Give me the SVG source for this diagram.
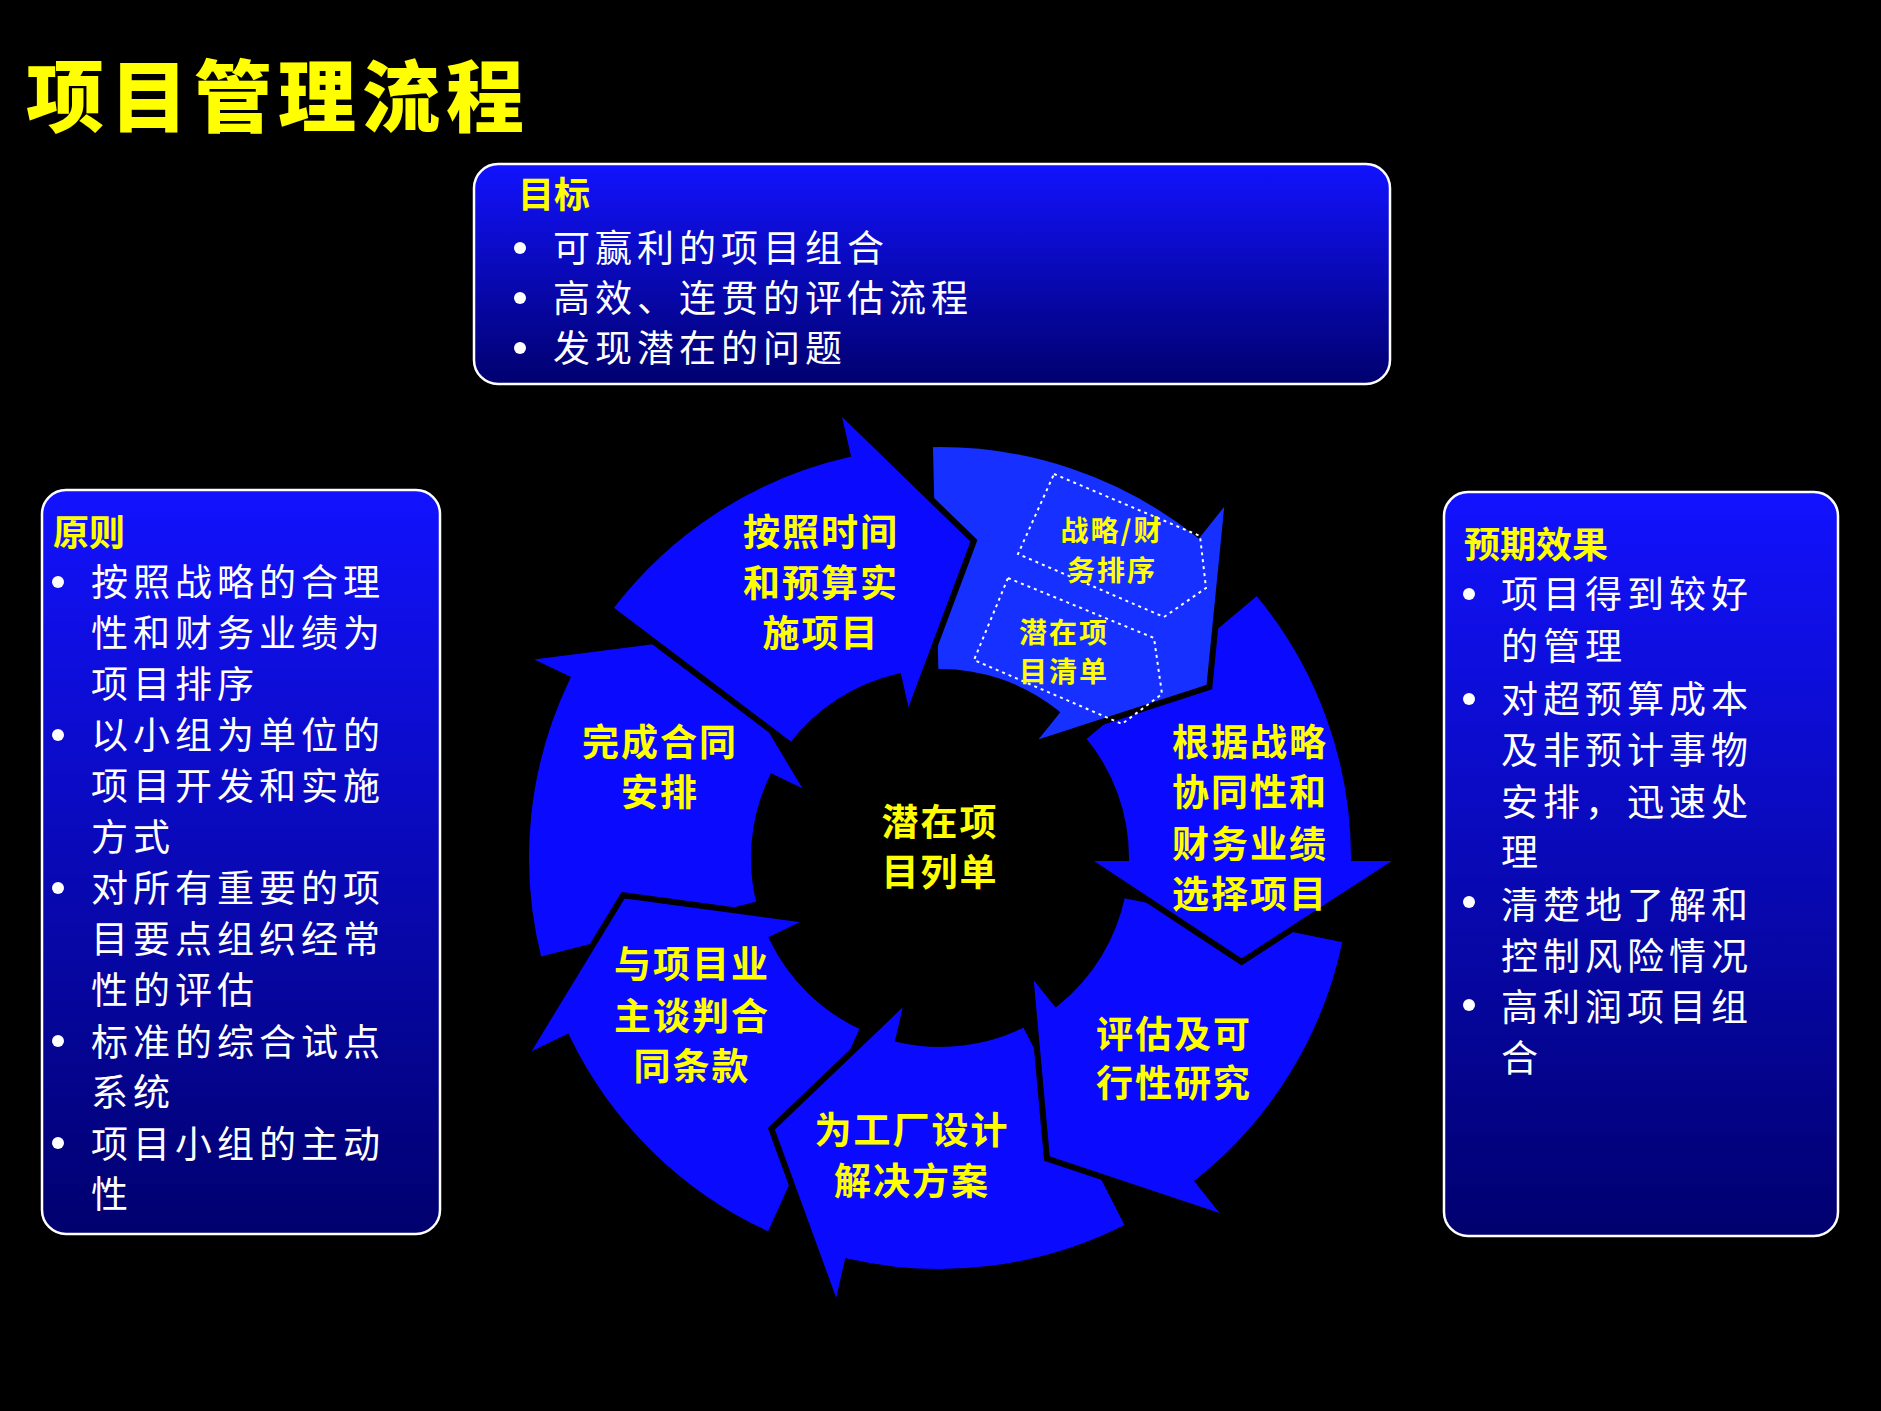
<svg xmlns="http://www.w3.org/2000/svg" width="1881" height="1411" viewBox="0 0 1881 1411">
<defs>
<linearGradient id="bg" x1="0" y1="0" x2="0" y2="1"><stop offset="0" stop-color="#1212ff"/><stop offset="1" stop-color="#00006e"/></linearGradient>
<radialGradient id="rg" cx="940" cy="858" r="460" gradientUnits="userSpaceOnUse"><stop offset="0.4" stop-color="#0000d8"/><stop offset="1" stop-color="#0a0aff"/></radialGradient>
<path id="seg" d="M142.5,-119.6 L317.1,-266.1 A414,414 0 0 1 414,0 L462,0 L301.6,103.9 L144,0 L186,0 A186,186 0 0 0 142.5,-119.6 Z"/>
</defs>
<style>
.box{fill:url(#bg);stroke:#fff;stroke-width:2.5}
.hd{fill:#ffff00;font-family:"Noto Sans CJK SC",sans-serif;font-weight:700;font-size:36px}
.tx{fill:#fff;font-family:"Noto Sans CJK SC",sans-serif;font-size:37px;letter-spacing:5px}
.lb{fill:#ffff00;font-family:"Noto Sans CJK SC",sans-serif;font-weight:700;font-size:37px;text-anchor:middle;letter-spacing:2px}
.sm{font-size:28px}
.sg{fill:url(#rg);stroke:#000;stroke-width:6}
.dot{fill:#fff}
.db{fill:none;stroke:#fff;stroke-width:2;stroke-dasharray:3 4}
</style>
<rect width="1881" height="1411" fill="#000"/>
<text x="26" y="126" fill="#ffff00" font-family="Noto Sans CJK SC,sans-serif" font-weight="900" font-size="78" letter-spacing="6">项目管理流程</text>

<g id="goal">
<rect class="box" x="474" y="164" width="916" height="220" rx="24"/>
<text class="hd" x="518" y="208">目标</text>
<circle class="dot" cx="520" cy="248" r="6"/><circle class="dot" cx="520" cy="298" r="6"/><circle class="dot" cx="520" cy="348" r="6"/>
<text class="tx" x="553" y="262">可赢利的项目组合</text>
<text class="tx" x="553" y="312">高效、连贯的评估流程</text>
<text class="tx" x="553" y="362">发现潜在的问题</text>
</g>

<g id="principles">
<rect class="box" x="42" y="490" width="398" height="744" rx="24"/>
<text class="hd" x="53" y="546">原则</text>
<circle class="dot" cx="58" cy="582" r="6"/><circle class="dot" cx="58" cy="735" r="6"/><circle class="dot" cx="58" cy="888" r="6"/><circle class="dot" cx="58" cy="1041" r="6"/><circle class="dot" cx="58" cy="1143" r="6"/>
<text class="tx" x="91" y="596">按照战略的合理</text>
<text class="tx" x="91" y="647">性和财务业绩为</text>
<text class="tx" x="91" y="698">项目排序</text>
<text class="tx" x="91" y="749">以小组为单位的</text>
<text class="tx" x="91" y="800">项目开发和实施</text>
<text class="tx" x="91" y="851">方式</text>
<text class="tx" x="91" y="902">对所有重要的项</text>
<text class="tx" x="91" y="953">目要点组织经常</text>
<text class="tx" x="91" y="1004">性的评估</text>
<text class="tx" x="91" y="1056">标准的综合试点</text>
<text class="tx" x="91" y="1106">系统</text>
<text class="tx" x="91" y="1158">项目小组的主动</text>
<text class="tx" x="91" y="1208">性</text>
</g>

<g id="effects">
<rect class="box" x="1444" y="492" width="394" height="744" rx="24"/>
<text class="hd" x="1464" y="558">预期效果</text>
<circle class="dot" cx="1469" cy="594" r="6"/><circle class="dot" cx="1469" cy="699" r="6"/><circle class="dot" cx="1469" cy="902" r="6"/><circle class="dot" cx="1469" cy="1005" r="6"/>
<text class="tx" x="1501" y="608">项目得到较好</text>
<text class="tx" x="1501" y="660">的管理</text>
<text class="tx" x="1501" y="713">对超预算成本</text>
<text class="tx" x="1501" y="764">及非预计事物</text>
<text class="tx" x="1501" y="816">安排，迅速处</text>
<text class="tx" x="1501" y="866">理</text>
<text class="tx" x="1501" y="919">清楚地了解和</text>
<text class="tx" x="1501" y="970">控制风险情况</text>
<text class="tx" x="1501" y="1021">高利润项目组</text>
<text class="tx" x="1501" y="1072">合</text>
</g>

<g id="cycle" transform="translate(940,858)">
<use href="#seg" class="sg" transform="rotate(205.7)"/>
<use href="#seg" class="sg" transform="rotate(154.3)"/>
<use href="#seg" class="sg" transform="rotate(102.9)"/>
<use href="#seg" class="sg" transform="rotate(51.4)"/>
<use href="#seg" class="sg" transform="rotate(0)"/>
<use href="#seg" class="sg" transform="rotate(-51.4)" style="fill:#1530ff"/>
<use href="#seg" class="sg" transform="rotate(-102.9)"/>
</g>
<polygon class="db" points="1054,474 1200,536 1206,588 1164,617 1018,554"/>
<polygon class="db" points="1008,578 1154,638 1162,694 1122,724 974,660"/>

<g id="labels">
<text class="lb" x="821" y="546">按照时间</text><text class="lb" x="821" y="597">和预算实</text><text class="lb" x="821" y="647">施项目</text>
<text class="lb" x="660" y="756">完成合同</text><text class="lb" x="660" y="806">安排</text>
<text class="lb" x="692" y="978">与项目业</text><text class="lb" x="692" y="1030">主谈判合</text><text class="lb" x="692" y="1080">同条款</text>
<text class="lb" x="912" y="1144">为工厂设计</text><text class="lb" x="912" y="1195">解决方案</text>
<text class="lb" x="1174" y="1048">评估及可</text><text class="lb" x="1174" y="1097">行性研究</text>
<text class="lb" x="1250" y="756">根据战略</text><text class="lb" x="1250" y="806">协同性和</text><text class="lb" x="1250" y="858">财务业绩</text><text class="lb" x="1250" y="908">选择项目</text>
<text class="lb" x="940" y="836">潜在项</text><text class="lb" x="940" y="886">目列单</text>
<text class="lb sm" x="1112" y="541">战略/财</text><text class="lb sm" x="1112" y="581">务排序</text>
<text class="lb sm" x="1064" y="643">潜在项</text><text class="lb sm" x="1064" y="682">目清单</text>
</g>
</svg>
